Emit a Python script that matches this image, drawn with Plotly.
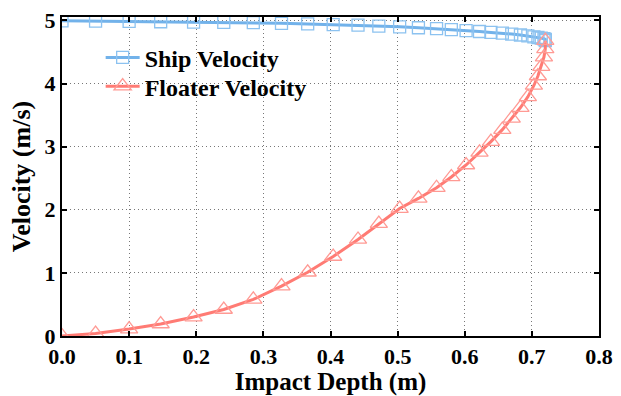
import plotly.graph_objects as go

depth = [0, 0.05, 0.1, 0.147, 0.196, 0.241, 0.285, 0.327, 0.366, 0.404, 0.441, 0.472, 0.503,
         0.531, 0.558, 0.580, 0.602, 0.622, 0.639, 0.656, 0.670, 0.683, 0.694, 0.703, 0.709,
         0.714, 0.718, 0.720, 0.720]
ship_velocity = [4.995, 4.99, 4.985, 4.98, 4.975, 4.97, 4.965, 4.955, 4.945, 4.935, 4.925, 4.91, 4.90,
                 4.885, 4.87, 4.855, 4.84, 4.825, 4.81, 4.80, 4.785, 4.77, 4.755, 4.74, 4.73,
                 4.72, 4.71, 4.70, 4.68]
floater_velocity = [0, 0.04, 0.11, 0.19, 0.30, 0.42, 0.58, 0.79, 1.01, 1.26, 1.53, 1.78, 2.02,
                    2.18, 2.35, 2.52, 2.71, 2.91, 3.08, 3.27, 3.45, 3.62, 3.79, 3.97, 4.12,
                    4.27, 4.42, 4.55, 4.68]
x_ticks = [0.0, 0.1, 0.2, 0.3, 0.4, 0.5, 0.6, 0.7, 0.8]
y_ticks = [0, 1, 2, 3, 4, 5]

FONT = "Liberation Serif"

fig = go.Figure()
fig.add_trace(go.Scatter(
    x=depth, y=ship_velocity, mode="lines+markers", name="Ship Velocity",
    line=dict(color="#72b2ea", width=3),
    marker=dict(symbol="square-open", size=12, color="#8cc2f0", line=dict(width=1.3)),
    legend="legend",
))
fig.add_trace(go.Scatter(
    x=depth, y=floater_velocity, mode="lines+markers", name="Floater Velocity",
    line=dict(color="#ff7b74", width=3),
    marker=dict(symbol="triangle-up-open", size=15, color="#ff9a94", line=dict(width=1.3)),
    legend="legend2",
))

axis_common = dict(
    showline=True, linecolor="black", linewidth=2, mirror="ticks",
    ticks="inside", ticklen=5, tickwidth=2, tickcolor="black",
    showgrid=True, gridcolor="#777777", gridwidth=1, griddash="1px,3px",
    zeroline=False,
    tickfont=dict(family=FONT, size=22, color="black", weight="bold"),
)

fig.update_xaxes(
    range=[0, 0.8], tickvals=x_ticks, ticktext=[f"{v:.1f}" for v in x_ticks],
    title=dict(text="Impact Depth (m)", font=dict(family=FONT, size=25, color="black", weight="bold"), standoff=1),
    **axis_common,
)
fig.update_yaxes(
    range=[0, 5.055], tickvals=y_ticks, ticktext=[str(v) for v in y_ticks],
    title=dict(text="Velocity (m/s)", font=dict(family=FONT, size=26, color="black", weight="bold"), standoff=6),
    **axis_common,
)

legend_common = dict(
    xanchor="left", yanchor="middle",
    bgcolor="rgba(0,0,0,0)", borderwidth=0,
    font=dict(family=FONT, size=24, color="black", weight="bold"),
    itemwidth=34,
)

fig.update_layout(
    width=621, height=396,
    margin=dict(l=62, r=17, t=8, b=59),
    paper_bgcolor="white", plot_bgcolor="white",
    showlegend=True,
    legend=dict(x=0.072, y=0.872, **legend_common),
    legend2=dict(x=0.072, y=0.782, **legend_common),
)

fig.write_html("out.html")
